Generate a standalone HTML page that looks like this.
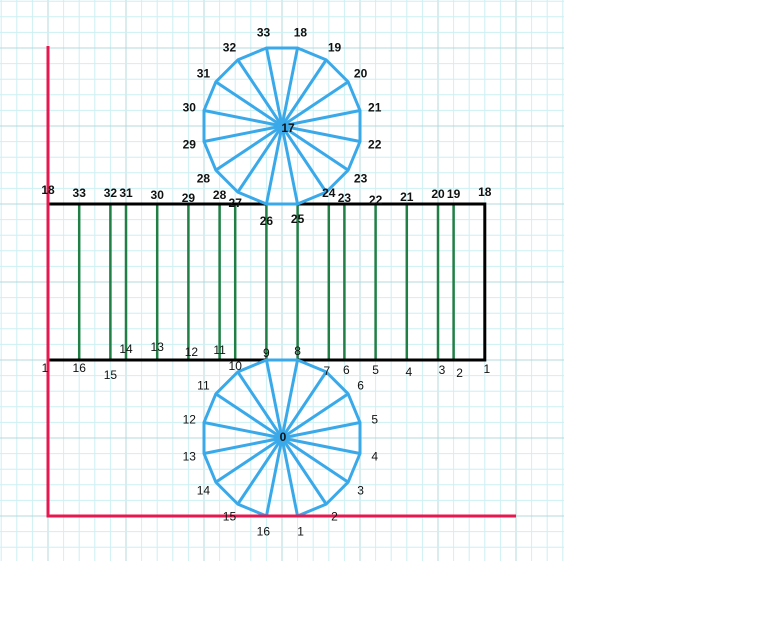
<!DOCTYPE html>
<html><head><meta charset="utf-8"><style>
html,body{margin:0;padding:0;background:#fff;}
svg{display:block;font-family:"Liberation Sans",sans-serif;}
</style></head><body>
<svg id="s" width="781" height="644" viewBox="0 0 781 644">
<g id="grid"></g>
<g id="shapes"></g>
<g id="labels"></g>
</svg>
<script>
// green generator positions along rectangle, in grid units from left edge
const genUnits = [2,4,5,7,9,11,12,14,16,18,19,21,23,25,26];
// top-edge labels of the rectangle
const topLabels = ['18','33','32','31','30','29','28','27','26','25','24','23','22','21','20','19','18'];
const topUnits = [0,2,4,5,7,9,11,12,14,16,18,19,21,23,25,26,28];
const topDy = [-14,-11,-11,-11,-9,-6,-9,-1,17,15,-11,-6,-4,-7,-10,-10,-12];
// bottom-edge labels
const botLabels = ['1','16','15','14','13','12','11','10','9','8','7','6','5','4','3','2','1'];
const botUnits = [0,2,4,5,7,9,11,12,14,16,18,19,21,23,25,26,28];
const botDy = [8,8,15,-11,-13,-8,-10,6,-7,-9,11,10,10,12,10,13,9];
const botDx = [-3,0,0,0,0,3,0,0,0,0,-2,2,0,2,4,6,2];
// polygon vertex labels (empty = shared with rectangle label)
const botPolyLabels = ['1','2','3','4','5','6','','','','','11','12','13','14','15','16'];
const topPolyLabels = ['18','19','20','21','22','23','','','','','28','29','30','31','32','33'];

const NS='http://www.w3.org/2000/svg';
const u=15.6, X0=48, Y0=48;
function gx(n){return X0+n*u;}
function gy(n){return Y0+n*u;}
function el(tag,attrs,parent){const e=document.createElementNS(NS,tag);for(const k in attrs)e.setAttribute(k,attrs[k]);parent.appendChild(e);return e;}
const G=document.getElementById('grid'),S=document.getElementById('shapes'),L=document.getElementById('labels');

for(let i=-3;i<=33;i++){
  const x=gx(i); if(x<0||x>564)continue;
  const major=(i%5===0);
  const ln=el('line',{x1:x,y1:0,x2:x,y2:561,stroke:major?'#b4d9de':'#cdf0f3','stroke-width':1},G);
  
  
}
for(let j=-3;j<=33;j++){
  const y=gy(j); if(y<0||y>561)continue;
  const major=(j%5===0);
  const ln=el('line',{x1:0,y1:y,x2:564,y2:y,stroke:major?'#b4d9de':'#cdf0f3','stroke-width':1},G);
  
  
}

const rL=gx(0), rR=gx(28), rT=gy(10), rB=gy(20);
genUnits.forEach(n=>{
  const g=el('line',{x1:gx(n),y1:rT,x2:gx(n),y2:rB,stroke:'#1f7f45','stroke-width':2.5},S);
  
  
});
const rect=el('rect',{x:rL,y:rT,width:rR-rL,height:rB-rT,fill:'none',stroke:'#000','stroke-width':3},S);



const R=78/Math.cos(Math.PI/16);
function poly(cx,cy,name,bottom){
  const pts=[];
  for(let k=0;k<16;k++){
    let a = bottom ? (90-11.25 - k*22.5) : (-90+11.25 + k*22.5);
    a=a*Math.PI/180;
    pts.push([cx+R*Math.cos(a), cy+R*Math.sin(a)]);
  }
  const g=el('g',{},S);
  
  
  pts.forEach(p=>{
    const sp=el('line',{x1:cx,y1:cy,x2:p[0],y2:p[1],stroke:'#3aa9ea','stroke-width':3},g);
    
    
  });
  const pg=el('polygon',{points:pts.map(p=>p.join(',')).join(' '),fill:'none',stroke:'#3aa9ea','stroke-width':3,'stroke-linejoin':'round'},g);
  
  
  return pts;
}
const cx=gx(15), cyB=gy(25), cyT=gy(5);
const pB=poly(cx,cyB,'bottom-circle',true);
const pT=poly(cx,cyT,'top-circle',false);

function txt(x,y,s,bold,name){
  const t=el('text',{x:x,y:y,'font-size':12,'font-weight':bold?'bold':'normal','text-anchor':'middle','dominant-baseline':'central',fill:'#111'},L);
  t.textContent=s;
  
  
}
pB.forEach((p,k)=>{
  if(!botPolyLabels[k])return;
  const dx=p[0]-cx, dy=p[1]-cyB, d=Math.hypot(dx,dy);
  const r=(k===0||k===15)?16:15;
  txt(p[0]+dx/d*r,p[1]+dy/d*r,botPolyLabels[k],false,'bottom-vertex-label');
});
pT.forEach((p,k)=>{
  if(!topPolyLabels[k])return;
  const dx=p[0]-cx, dy=p[1]-cyT, d=Math.hypot(dx,dy);
  txt(p[0]+dx/d*15,p[1]+dy/d*15+(k===0||k===15?-1:0),topPolyLabels[k],true,'top-vertex-label');
});
txt(cx+1,cyB-1,'0',true,'bottom-center-label');
txt(cx+6,cyT+2,'17',true,'top-center-label');
topLabels.forEach((s,i)=>txt(gx(topUnits[i]),rT+topDy[i],s,true,'rect-top-label'));
botLabels.forEach((s,i)=>txt(gx(botUnits[i])+botDx[i],rB+botDy[i],s,false,'rect-bottom-label'));

const ax1=el('line',{x1:gx(0),y1:46,x2:gx(0),y2:gy(30)+1.5,stroke:'#e8174f','stroke-width':3},S);


const ax2=el('line',{x1:gx(0),y1:gy(30),x2:gx(30),y2:gy(30),stroke:'#e8174f','stroke-width':3},S);


</script>
</body></html>
